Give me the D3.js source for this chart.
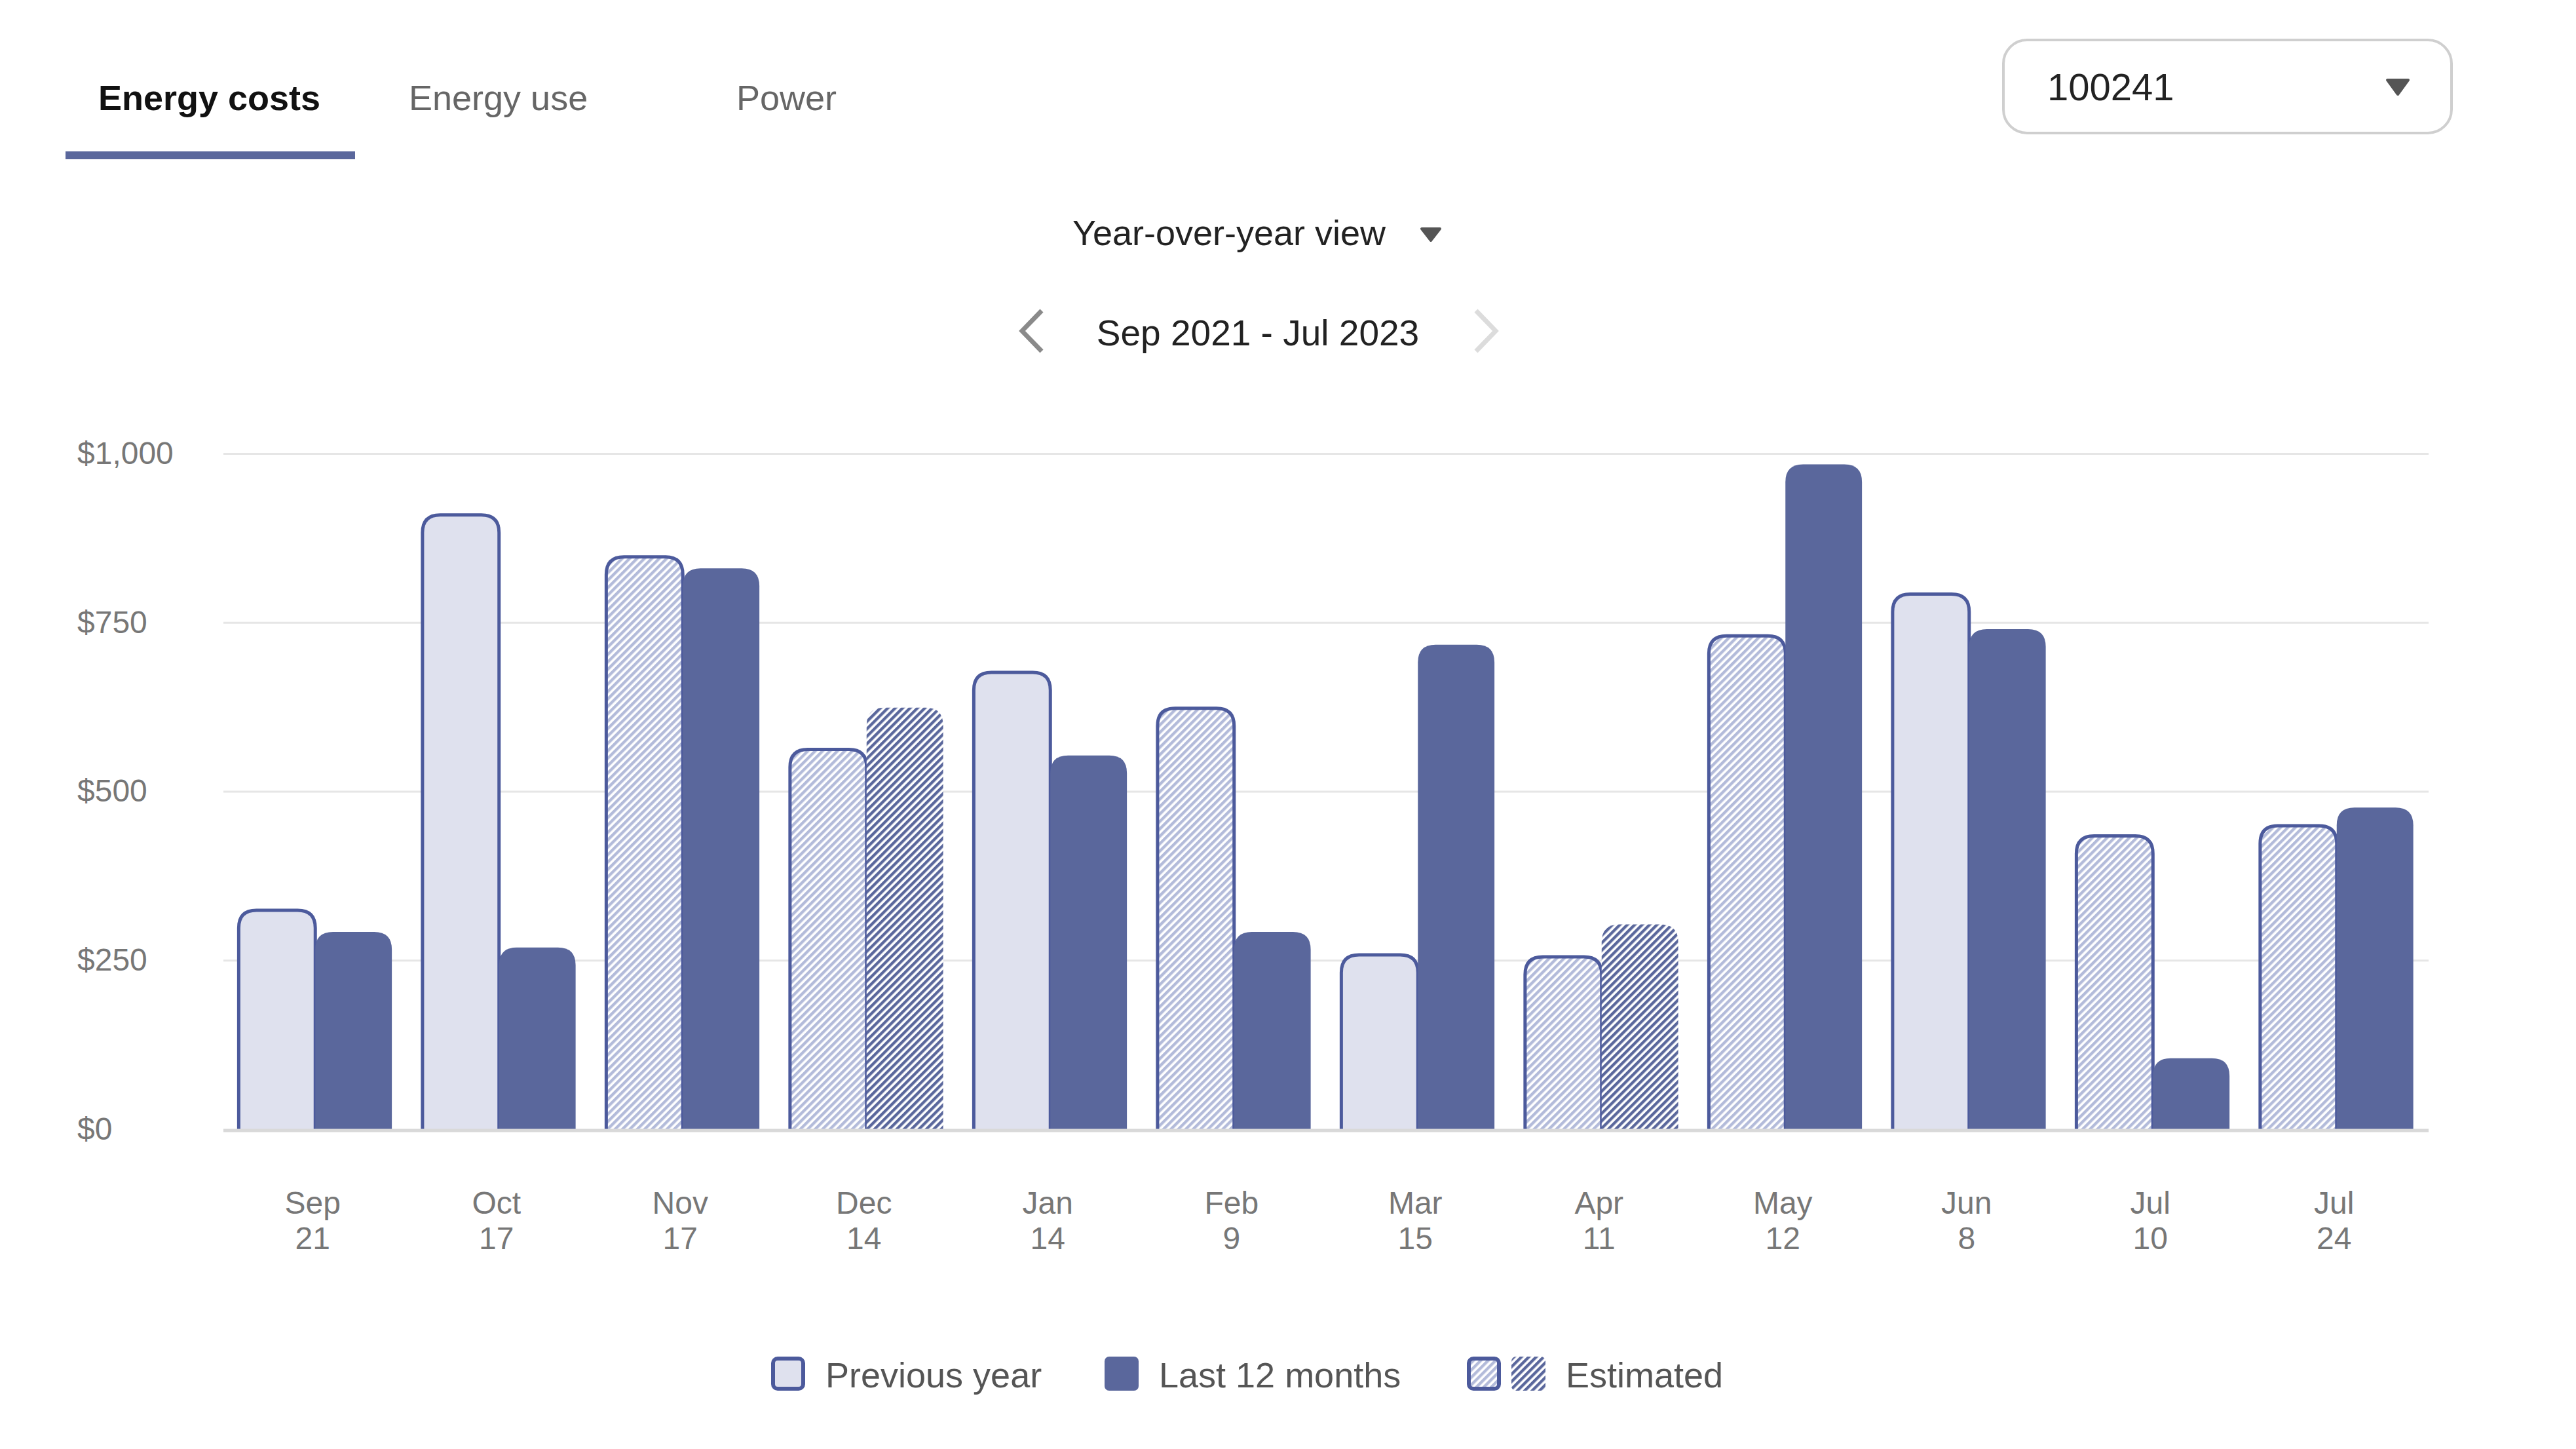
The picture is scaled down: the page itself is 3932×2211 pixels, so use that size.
<!DOCTYPE html>
<html>
<head>
<meta charset="utf-8">
<script src="https://cdn.jsdelivr.net/npm/d3@7"></script>
<style>
  body { margin: 0; background: #fff; }
  svg { display: block; font-family: "Liberation Sans", Arial, Helvetica, sans-serif; }
</style>
</head>
<body>
<svg width="3932" height="2211"></svg>
<script>
var months = ["Sep", "Oct", "Nov", "Dec", "Jan", "Feb", "Mar", "Apr", "May", "Jun", "Jul", "Jul"];
var days = ["21", "17", "17", "14", "14", "9", "15", "11", "12", "8", "10", "24"];
var previousYear = [324, 909, 847, 562, 676, 623, 258, 255, 730, 792, 434, 449];
var last12Months = [292, 269, 830, 624, 553, 292, 717, 303, 984, 740, 105, 476];
var previousEstimated = [false, false, true, true, false, true, false, true, true, false, true, true];
var lastEstimated = [false, false, false, true, false, false, false, true, false, false, false, false];
var yTicks = [0, 250, 500, 750, 1000];
var tabs = ["Energy costs", "Energy use", "Power"];
var legendItems = ["Previous year", "Last 12 months", "Estimated"];

var dark = "#5a679c";
var outline = "#4c5a9c";
var light = "#dfe1ee";
var hatchLight = "#b3bbda";

var svg = d3.select("svg");

// patterns for estimated bars
var defs = svg.append("defs");
function hatch(id, color, size, stripe) {
	var p = defs.append("pattern")
	.attr("id", id)
	.attr("patternUnits", "userSpaceOnUse")
	.attr("width", size)
	.attr("height", size)
	.attr("patternTransform", "rotate(45)");
	p.append("rect").attr("width", size).attr("height", size).attr("fill", "#fff");
	p.append("rect").attr("width", stripe).attr("height", size).attr("fill", color);
}
hatch("hatch-light", hatchLight, 8, 4.4);
hatch("hatch-dark", dark, 8, 4.4);

// ---- header: tabs ----
var tabX = [150, 624, 1124];
tabs.forEach(function (t, i) {
	svg.append("text")
	.text(t)
	.attr("x", tabX[i])
	.attr("y", 168)
	.attr("font-size", "54px")
	.attr("font-weight", i == 0 ? "bold" : "normal")
	.attr("fill", i == 0 ? "#111" : "#666");
});
svg.append("rect")
.attr("x", 100).attr("y", 231)
.attr("width", 442).attr("height", 12)
.attr("fill", dark);

// meter dropdown
svg.append("rect")
.attr("x", 3058).attr("y", 61)
.attr("width", 684).attr("height", 142)
.attr("rx", 36)
.attr("fill", "#fff")
.attr("stroke", "#cfcfcf")
.attr("stroke-width", 4);
svg.append("text")
.text("100241")
.attr("x", 3125).attr("y", 153)
.attr("font-size", "58px")
.attr("fill", "#222");

function triangle(cx, cy, w, h) {
	svg.append("path")
	.attr("d", "M" + (cx - w / 2) + "," + (cy - h / 2) + "L" + (cx + w / 2) + "," + (cy - h / 2) + "L" + cx + "," + (cy + h / 2) + "Z")
	.attr("fill", "#555")
	.attr("stroke", "#555")
	.attr("stroke-width", 4)
	.attr("stroke-linejoin", "round");
}
triangle(3660, 133, 32, 22);

// view selector
svg.append("text")
.text("Year-over-year view")
.attr("x", 1876).attr("y", 374)
.attr("text-anchor", "middle")
.attr("font-size", "54px")
.attr("fill", "#222");
triangle(2184, 358, 28, 18);

svg.append("text")
.text("Sep 2021 - Jul 2023")
.attr("x", 1920).attr("y", 527)
.attr("text-anchor", "middle")
.attr("font-size", "55px")
.attr("fill", "#222");
svg.append("path")
.attr("d", "M1590,474L1560,505L1590,536")
.attr("fill", "none").attr("stroke", "#8a8a8a").attr("stroke-width", 7);
svg.append("path")
.attr("d", "M2253,474L2283,505L2253,536")
.attr("fill", "none").attr("stroke", "#dcdcdc").attr("stroke-width", 7);

// ---- chart ----
var x = d3.scaleBand().domain(d3.range(months.length)).range([341, 3707]);
var xInner = d3.scaleBand().domain(["prev", "last"]).range([0, x.bandwidth()]).paddingOuter(0.2);
var y = d3.scaleLinear().domain([0, 1000]).range([1723, 692]);

svg.append("g")
.call(d3.axisRight(y).tickValues(yTicks.slice(1)).tickFormat("").tickSize(x.range()[1] - x.range()[0]))
.attr("transform", "translate(" + x.range()[0] + ",0)")
.call(function (g) { g.select(".domain").remove(); })
.selectAll("line")
.attr("stroke", "#e6e6e6")
.attr("stroke-width", 3);

var yAxis = svg.append("g")
.attr("transform", "translate(118,0)")
.call(d3.axisLeft(y).tickValues(yTicks).tickFormat(d3.format("$,")).tickSize(0));
yAxis.select(".domain").remove();
yAxis.selectAll("text")
.attr("x", 0)
.attr("text-anchor", "start")
.attr("font-family", "Liberation Sans, Arial, sans-serif")
.attr("font-size", "48px")
.attr("fill", "#777");

function topRounded(x0, y0, w, h, r, close) {
	var p = "M" + x0 + "," + (y0 + h) +
		"V" + (y0 + r) +
		"Q" + x0 + "," + y0 + " " + (x0 + r) + "," + y0 +
		"H" + (x0 + w - r) +
		"Q" + (x0 + w) + "," + y0 + " " + (x0 + w) + "," + (y0 + r) +
		"V" + (y0 + h);
	return close ? p + "Z" : p;
}

var r = 27;
var bw = xInner.bandwidth();

months.forEach(function (m, i) {
	var px = x(i) + xInner("prev");
	var lx = x(i) + xInner("last");
	var ph = y(0) - y(previousYear[i]);
	var lh = y(0) - y(last12Months[i]);

	svg.append("path")
	.attr("d", topRounded(px, y(previousYear[i]), bw, ph, r, false))
	.attr("fill", previousEstimated[i] ? "url(#hatch-light)" : light)
	.attr("stroke", outline)
	.attr("stroke-width", 5);

	svg.append("path")
	.attr("d", topRounded(lx, y(last12Months[i]), bw, lh, r, true))
	.attr("fill", lastEstimated[i] ? "url(#hatch-dark)" : dark);
});

svg.append("line")
.attr("x1", x.range()[0]).attr("x2", x.range()[1])
.attr("y1", y(0) + 2).attr("y2", y(0) + 2)
.attr("stroke", "#d9d9d9")
.attr("stroke-width", 5);

var xAxis = svg.append("g")
.attr("transform", "translate(0," + y(0) + ")")
.call(d3.axisBottom(x).tickSize(0).tickFormat(""));
xAxis.select(".domain").remove();
xAxis.selectAll(".tick text").each(function (d) {
	var t = d3.select(this)
	.attr("y", 0).attr("dy", null)
	.attr("font-family", "Liberation Sans, Arial, sans-serif")
	.attr("font-size", "48px")
	.attr("fill", "#777");
	t.append("tspan").attr("x", -4).attr("y", 129).text(months[d]);
	t.append("tspan").attr("x", -4).attr("y", 183).text(days[d]);
});

// ---- legend ----
var legend = svg.append("g").attr("font-size", "54px").attr("fill", "#555");
function swatch(x0, fill, stroked) {
	legend.append("rect")
	.attr("x", x0 + (stroked ? 3 : 0)).attr("y", stroked ? 2073 : 2070)
	.attr("width", stroked ? 46 : 52).attr("height", stroked ? 46 : 52)
	.attr("rx", 7)
	.attr("fill", fill)
	.attr("stroke", stroked ? outline : "none")
	.attr("stroke-width", 6);
}
swatch(1177, light, true);
legend.append("text").text(legendItems[0]).attr("x", 1260).attr("y", 2117);
swatch(1686, dark, false);
legend.append("text").text(legendItems[1]).attr("x", 1769).attr("y", 2117);
swatch(2239, "url(#hatch-light)", true);
swatch(2307, "url(#hatch-dark)", false);
legend.append("text").text(legendItems[2]).attr("x", 2390).attr("y", 2117);
</script>
</body>
</html>
